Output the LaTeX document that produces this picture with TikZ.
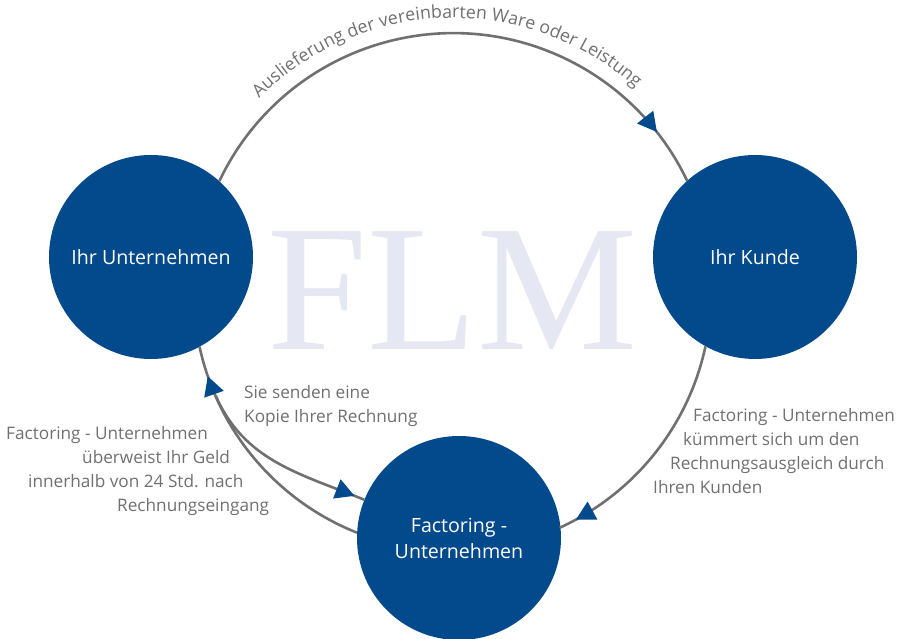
\documentclass[tikz,border=0pt]{standalone}
\usepackage{fontspec}
\setmainfont{Open Sans}
\newfontfamily\logoserif{Liberation Serif}
\usetikzlibrary
  {
    arrows.meta,              % Triangle tips
    decorations.markings,     % tips in the middle of the arcs
    decorations.text,         % text along the top arc
  }

\definecolor{flmblue}{RGB}{3,74,140}
\definecolor{flmgray}{RGB}{112,112,114}
\definecolor{flmlogo}{RGB}{229,232,242}

\newcommand{\circlefont}{\fontsize{19.6}{26}\selectfont}
\newcommand{\notefont}{\fontsize{17.2}{24}\selectfont}
\newcommand{\arcfont}{\fontsize{17.8}{24}\selectfont}

\begin{document}
\begin{tikzpicture}
    [
      x=1pt, y=1pt,
      party/.style=
        {
          circle,
          fill=flmblue,
          minimum size=204pt,
          inner sep=0pt,
          text=white,
          font=\circlefont,
          align=center,
        },
      flow/.style=
        {
          draw=flmgray,
          line width=2.6pt,
        },
      note/.style=
        {
          text=flmgray,
          font=\notefont,
          inner sep=0pt,
          align=left,
          anchor=north west,
        },
      midtip/.style=
        {
          postaction=decorate,
          decoration={markings, mark=at position #1 with
            {\arrow{Triangle[length=19pt,width=20pt,color=flmblue]}}},
        },
    ]
    \useasboundingbox (0,0) rectangle (912,639);

    % watermark
    \node[text=flmlogo, font=\logoserif\fontsize{180}{180}\selectfont,
          anchor=base, inner sep=0pt] (logo) at (452.5,289) {FLM};

    \coordinate (ring) at (453,347);

    \node[party] (unternehmen) at (151,382) {Ihr Unternehmen};
    \node[party] (kunde)       at (755,382) {Ihr Kunde};
    \node[party] (factoring)   at (459,101) {Factoring -\\Unternehmen};

    % the cycle
    \draw[flow, midtip=0.901] (unternehmen.48)
      arc[start angle=154.6, end angle=25.4, radius=259pt];
    \draw[flow, midtip=0.925] (kunde.241)
      arc[start angle=-12.1, end angle=-65.5, radius=259pt];
    \draw[flow, midtip=0.879] (factoring.177)
      arc[start angle=248.3, end angle=192.2, radius=259pt];
    \coordinate (split) at ([shift={(203.7:259pt)}]ring);
    \draw[flow, midtip=0.944] (split) to[out=-66, in=158] (factoring);

    \path[decorate, decoration={text along path, text align=center,
        text color=flmgray,
        text={|\arcfont|Auslieferung der vereinbarten Ware oder Leistung}}]
      ([shift={(151.6:274pt)}]ring) arc[start angle=151.6, end angle=31.6, radius=274pt];

    \node[note] (kopie) at (244,254) {Sie senden eine\\Kopie Ihrer Rechnung};
    \node[note] (geld) at (6,213)
      {Factoring - Unternehmen\\
       \hspace*{76pt}überweist Ihr Geld\\
       \hspace*{22pt}innerhalb von 24 Std. nach\\
       \hspace*{111pt}Rechnungseingang};
    \node[note] (ausgleich) at (653,231)
      {\hspace*{40pt}Factoring - Unternehmen\\
       \hspace*{30pt}kümmert sich um den\\
       \hspace*{17pt}Rechnungsausgleich durch\\
       Ihren Kunden};
  \end{tikzpicture}
\end{document}
